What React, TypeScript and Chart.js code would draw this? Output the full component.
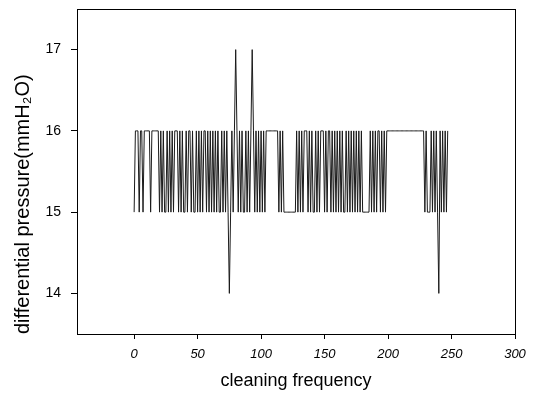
import React, { useEffect, useRef } from "react";
import { Chart, registerables } from "chart.js";

Chart.register(...registerables);

// differential pressure readings (mmH2O), one per cleaning, cleaning index 0..247
const pressure0to49 = [
  15, 16, 16, 16, 15, 16, 16, 15, 16, 16,
  16, 16, 16, 15, 16, 16, 16, 16, 16, 16,
  15, 16, 15, 16, 15, 15, 16, 15, 16, 15,
  16, 15, 16, 16, 16, 15, 16, 15, 16, 15,
  15, 16, 15, 16, 16, 15, 16, 15, 15, 16,
];
const pressure50to99 = [
  15, 16, 15, 16, 15, 16, 16, 15, 16, 15,
  16, 15, 16, 15, 16, 15, 16, 15, 15, 16,
  15, 16, 15, 16, 15, 14, 15, 16, 15, 16,
  17, 16, 15, 16, 15, 16, 15, 15, 16, 15,
  16, 15, 16, 17, 16, 15, 16, 15, 16, 15,
];
const pressure100to149 = [
  16, 15, 16, 15, 16, 16, 16, 16, 16, 16,
  16, 16, 16, 16, 15, 16, 15, 16, 15, 15,
  15, 15, 15, 15, 15, 15, 15, 15, 16, 15,
  16, 15, 16, 15, 16, 16, 16, 15, 16, 15,
  16, 15, 15, 16, 15, 16, 15, 16, 16, 16,
];
const pressure150to199 = [
  15, 16, 15, 16, 16, 15, 16, 15, 16, 15,
  16, 15, 16, 15, 16, 15, 15, 16, 15, 16,
  15, 16, 15, 16, 15, 16, 15, 16, 15, 16,
  15, 15, 15, 15, 15, 15, 16, 15, 16, 15,
  16, 15, 16, 16, 15, 16, 15, 16, 15, 16,
];
const pressure200to247 = [
  16, 16, 16, 16, 16, 16, 16, 16, 16, 16,
  16, 16, 16, 16, 16, 16, 16, 16, 16, 16,
  16, 16, 16, 16, 16, 16, 16, 16, 16, 15,
  16, 15, 15, 15, 16, 15, 16, 15, 16, 15,
  14, 16, 15, 16, 15, 16, 15, 16,
];
const pressure = [
  ...pressure0to49,
  ...pressure50to99,
  ...pressure100to149,
  ...pressure150to199,
  ...pressure200to247,
];

const xTicks = [0, 50, 100, 150, 200, 250, 300];
const yTicks = [14, 15, 16, 17];
const xTitle = "cleaning frequency";
const yTitle = "differential pressure(mmH\u2082O)";

const framePlugin = {
  id: "frame",
  afterDraw(chart: any) {
    const { ctx, chartArea } = chart;
    ctx.save();
    ctx.strokeStyle = "#000";
    ctx.lineWidth = 1;
    ctx.strokeRect(
      Math.round(chartArea.left) + 0.5,
      Math.round(chartArea.top) + 0.5,
      Math.round(chartArea.right - chartArea.left),
      Math.round(chartArea.bottom - chartArea.top)
    );
    ctx.restore();
  },
};

export default function App() {
  const ref = useRef<HTMLCanvasElement | null>(null);

  useEffect(() => {
    document.body.style.margin = "0";
    const canvas = ref.current;
    if (!canvas) return;
    const chart = new Chart(canvas, {
      type: "line",
      data: {
        datasets: [
          {
            data: pressure.map((v, i) => ({ x: i, y: v })),
            borderColor: "#1a1a1a",
            borderWidth: 1,
            pointRadius: 0,
            tension: 0,
            fill: false,
          },
        ],
      },
      options: {
        animation: false,
        responsive: false,
        devicePixelRatio: 1,
        layout: { padding: { top: 9, right: 22, left: 0, bottom: 0 } },
        plugins: {
          legend: { display: false },
          tooltip: { enabled: false },
        },
        scales: {
          x: {
            type: "linear",
            min: -45,
            max: 300,
            afterBuildTicks: (s: any) => {
              s.ticks = xTicks.map((v) => ({ value: v }));
            },
            afterFit: (s: any) => {
              s.height = 66;
              s.paddingLeft = 0;
              s.paddingRight = 0;
            },
            grid: {
              display: true,
              drawOnChartArea: false,
              drawTicks: true,
              tickLength: 5,
              color: "#000",
            },
            border: { display: true, color: "#000", width: 1 },
            ticks: {
              color: "#000",
              padding: 8,
              maxRotation: 0,
              autoSkip: false,
              font: { family: "Arial, 'Liberation Sans'", size: 13, style: "italic" },
            },
            title: {
              display: true,
              text: xTitle,
              color: "#000",
              padding: { top: 0, bottom: 8 },
              font: { family: "Arial, 'Liberation Sans'", size: 18 },
            },
          },
          y: {
            type: "linear",
            min: 13.5,
            max: 17.5,
            afterBuildTicks: (s: any) => {
              s.ticks = yTicks.map((v) => ({ value: v }));
            },
            afterFit: (s: any) => {
              s.width = 77;
              s.paddingTop = 0;
              s.paddingBottom = 0;
            },
            grid: {
              display: true,
              drawOnChartArea: false,
              drawTicks: true,
              tickLength: 6,
              color: "#000",
            },
            border: { display: true, color: "#000", width: 1 },
            ticks: {
              color: "#000",
              padding: 10,
              autoSkip: false,
              font: { family: "Arial, 'Liberation Sans'", size: 14 },
            },
            title: {
              display: true,
              text: yTitle,
              color: "#000",
              align: "start",
              padding: { top: 11, bottom: 0 },
              font: { family: "Arial, 'Liberation Sans'", size: 20 },
            },
          },
        },
      },
      plugins: [framePlugin],
    });
    return () => chart.destroy();
  }, []);

  return <canvas ref={ref} width={537} height={400} style={{ display: "block" }} />;
}
